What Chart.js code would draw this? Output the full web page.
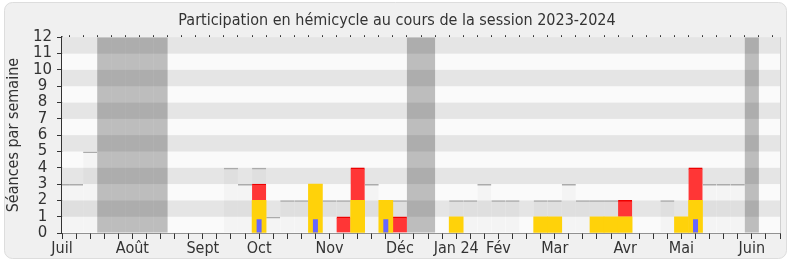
<!DOCTYPE html>
<html>
<head>
<meta charset="utf-8">
<script src="https://cdn.jsdelivr.net/npm/chart.js@4/dist/chart.umd.min.js"></script>
<style>
  html, body { margin: 0; padding: 0; background: #ffffff; }
  #wrap { width: 790px; height: 267px; }
</style>
</head>
<body>
<div id="wrap"><canvas id="c" width="790" height="267"></canvas></div>
<script>
// ---- Data (one entry per week, week 0 = first week of July 2023) ----
const weeks = Array.from({length: 51}, (_, i) => i);
const monthLabels = {0: 'Juil', 5: 'Août', 10: 'Sept', 14: 'Oct', 19: 'Nov', 24: 'Déc', 28: 'Jan 24', 31: 'Fév', 35: 'Mar', 40: 'Avr', 44: 'Mai', 49: 'Juin'};

// sessions held in the hemicycle each week
const sessionsHeld = [3, 3, 5, null, null, null, null, null, null, null,
                      null, null, 4, 3, 4, 1, 2, 2, 3, 2,
                      2, 4, 3, 2, 2, null, null, null, 2, 2,
                      3, 2, 2, null, 2, 2, 3, 2, 2, 2,
                      2, null, null, 2, 1, 4, 3, 3, 3, null, null];
// parliamentary vacation weeks
const vacationWeeks = [3, 4, 5, 6, 7, 25, 26, 49];
const vacationLevel = 12;
// presence (yellow) and interventions (red), stacked
const presences = {14: 2, 18: 3, 21: 2, 23: 2, 28: 1, 34: 1, 35: 1, 38: 1, 39: 1, 40: 1, 44: 1, 45: 2};
const interventions = {14: 1, 20: 1, 21: 2, 24: 1, 40: 1, 45: 2};
// questions (blue, narrow)
const questions = {14: 0.85, 18: 0.85, 23: 0.85, 45: 0.85};

const FONT = "'DejaVu Sans Condensed', 'DejaVu Sans', sans-serif";
const FONT_Y = "'DejaVu Sans', sans-serif";
const TXT = '#333333';

const toPoints = (obj) => Object.keys(obj).map(k => ({x: +k, y: obj[k]}));
const sessionPts = weeks.filter(w => sessionsHeld[w] !== null).map(w => ({x: w, y: sessionsHeld[w]}));
const vacationPts = vacationWeeks.map(w => ({x: w, y: vacationLevel}));

const framePlugin = {
  id: 'frame',
  beforeDraw(chart) {
    const ctx = chart.ctx;
    ctx.save();
    ctx.fillStyle = '#ffffff';
    ctx.fillRect(0, 0, chart.width, chart.height);
    const x = 4.5, y = 2.5, w = 782, h = 256, r = 8;
    ctx.beginPath();
    ctx.moveTo(x + r, y);
    ctx.arcTo(x + w, y, x + w, y + h, r);
    ctx.arcTo(x + w, y + h, x, y + h, r);
    ctx.arcTo(x, y + h, x, y, r);
    ctx.arcTo(x, y, x + w, y, r);
    ctx.closePath();
    ctx.fillStyle = '#f0f0f0';
    ctx.fill();
    ctx.strokeStyle = '#dddddd';
    ctx.lineWidth = 1;
    ctx.stroke();
    ctx.restore();
  },
  beforeDatasetsDraw(chart) {
    const {ctx, chartArea: a, scales: {y}} = chart;
    ctx.save();
    for (let i = 0; i < 12; i++) {
      const top = y.getPixelForValue(i + 1), bot = y.getPixelForValue(i);
      ctx.fillStyle = (i % 2 === 1) ? '#e5e5e5' : '#fafafa';
      ctx.fillRect(a.left, top, a.right - a.left, bot - top);
    }
    ctx.strokeStyle = '#cfcfcf';
    ctx.lineWidth = 1;
    ctx.beginPath();
    ctx.moveTo(a.right + 0.5, a.top);
    ctx.lineTo(a.right + 0.5, a.bottom);
    ctx.stroke();
    ctx.restore();
  }
};

const common = {grouped: false, barPercentage: 1, categoryPercentage: 1, inflateAmount: 0, clip: 0};

new Chart(document.getElementById('c'), {
  type: 'bar',
  data: {
    datasets: [
      Object.assign({}, common, {label: 'Séances', data: sessionPts, stack: 's', backgroundColor: 'rgba(0,0,0,0.025)',
        borderColor: '#ababab', borderWidth: {top: 1.5, left: 0, right: 0, bottom: 0}, borderSkipped: false, order: 10}),
      Object.assign({}, common, {label: 'Vacances', data: vacationPts, stack: 'v', backgroundColor: 'rgba(0,0,0,0.245)',
        borderWidth: 0, order: 9}),
      Object.assign({}, common, {label: 'Présences', data: toPoints(presences), stack: 'p', backgroundColor: '#ffd20a',
        borderWidth: 0, order: 1, inflateAmount: 0.3}),
      Object.assign({}, common, {label: 'Interventions', data: toPoints(interventions), stack: 'p', backgroundColor: '#ff3636',
        borderColor: '#ee0000', borderWidth: {top: 1.5, left: 0, right: 0, bottom: 0}, borderSkipped: false, order: 2, inflateAmount: 0.3}),
      Object.assign({}, common, {label: 'Questions', data: toPoints(questions), stack: 'q', backgroundColor: '#6666ff',
        borderWidth: 0, order: 0, maxBarThickness: 5})
    ]
  },
  options: {
    responsive: false,
    animation: false,
    devicePixelRatio: 1,
    layout: {padding: {left: 4, right: 0, top: 0, bottom: 0}},
    plugins: {
      legend: {display: false},
      tooltip: {enabled: false},
      title: {display: true, text: 'Participation en hémicycle au cours de la session 2023-2024',
        color: TXT, font: {family: FONT, size: 16, weight: 'normal', lineHeight: 1.2}, padding: {top: 11, bottom: 7}}
    },
    scales: {
      x: {
        type: 'linear', position: 'bottom', min: 0, max: 51, offset: false,
        afterFit(s) { s.height = 34; },
        border: {display: true, color: TXT, width: 1.5},
        grid: {display: true, drawOnChartArea: false, drawTicks: true, tickLength: 6, color: TXT, offset: false},
        ticks: {stepSize: 1, autoSkip: false, maxRotation: 0, minRotation: 0, padding: 0, color: TXT,
          font: {family: FONT, size: 16},
          callback: (v) => (monthLabels[v] !== undefined ? monthLabels[v] : '')}
      },
      xTop: {
        type: 'linear', position: 'top', min: 0, max: 51, offset: false,
        afterFit(s) { s.height = 0; },
        border: {display: false},
        grid: {display: true, drawOnChartArea: false, drawTicks: true, tickLength: 2, color: TXT},
        ticks: {stepSize: 1, autoSkip: false, display: false}
      },
      y: {
        type: 'linear', min: 0, max: 12, stacked: true,
        afterFit(s) { s.width = 58; },
        border: {display: true, color: TXT, width: 1.5},
        grid: {display: true, drawOnChartArea: false, drawTicks: true, tickLength: 5, color: TXT},
        ticks: {stepSize: 1, autoSkip: false, padding: 5, crossAlign: 'center', color: TXT, font: {family: FONT_Y, size: 15}},
        title: {display: true, text: 'Séances par semaine', color: TXT, padding: {top: 0.5, bottom: 0},
          font: {family: FONT, size: 16}}
      },
      yRight: {
        type: 'linear', position: 'right', min: 0, max: 12,
        afterFit(s) { s.width = 10; },
        border: {display: false},
        grid: {display: false},
        ticks: {display: false}
      }
    }
  },
  plugins: [framePlugin]
});
</script>
</body>
</html>
